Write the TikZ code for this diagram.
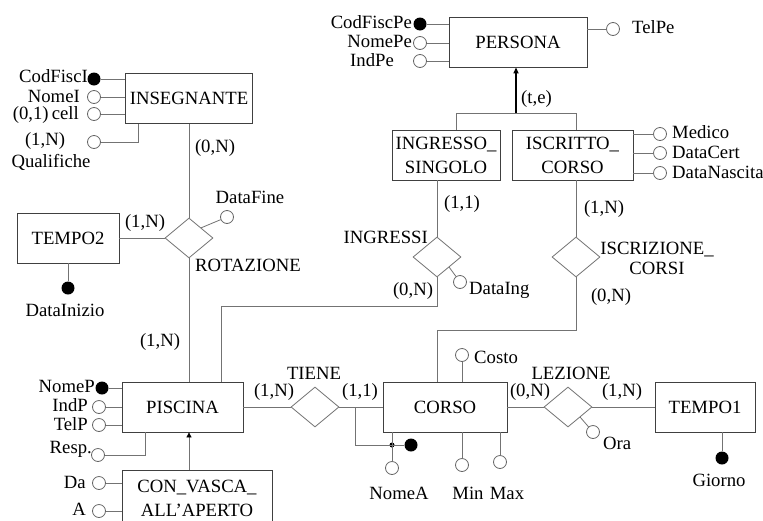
\documentclass[tikz,border=0pt]{standalone}
\usepackage{fontspec}
\setmainfont{Liberation Serif}
\usetikzlibrary{shapes.geometric,arrows.meta}
\begin{document}
\begin{tikzpicture}[x=1pt,y=-1pt,
  font=\fontsize{18.7}{24}\selectfont,
  ent/.style={draw=black!75, line width=0.8pt, minimum height=50pt, inner sep=2pt, align=center},
  rel/.style={draw=black!55, line width=0.8pt, shape=diamond, minimum width=48pt, minimum height=40pt, inner sep=0pt},
  con/.style={draw=black!55, line width=0.8pt},
  att/.style={circle, draw=black!60, fill=white, line width=0.8pt, minimum size=13pt, inner sep=0pt},
  keyatt/.style={circle, fill=black, minimum size=13pt, inner sep=0pt},
  lbl/.style={inner sep=0pt},
]
\clip (0,0) rectangle (763,520);
\fill[white] (0,0) rectangle (763,520);

% entities
\node[ent, minimum width=138pt] (persona) at (518,42) {PERSONA};
\node[ent, minimum width=127pt] (ins) at (189,98.5) {INSEGNANTE};
\node[ent, minimum width=108pt] (ingr) at (446,155) {INGRESSO\_\\SINGOLO};
\node[ent, minimum width=121pt] (iscr) at (572.5,155) {ISCRITTO\_\\CORSO};
\node[ent, minimum width=102pt] (tempo2) at (68,238) {TEMPO2};
\node[ent, minimum width=121pt] (piscina) at (182.5,407) {PISCINA};
\node[ent, minimum width=124pt] (corso) at (445,407) {CORSO};
\node[ent, minimum width=100pt] (tempo1) at (705,407) {TEMPO1};
\node[ent, minimum width=150pt, minimum height=56pt, anchor=north] (vasca) at (197,470) {CON\_VASCA\_\\ALL'APERTO};

% relationships
\node[rel] (rot) at (189,238) {};
\node[rel] (ingressi) at (437,257) {};
\node[rel] (iscrz) at (576,257) {};
\node[rel] (tiene) at (315,407) {};
\node[rel] (lez) at (568,407) {};

% relationship connectors
\draw[con] (ins.south) -- (rot.north);
\draw[con] (tempo2.east) -- (rot.west);
\draw[con] (rot.south) -- (rot.south |- piscina.north);
\coordinate (pj) at (221,306);
\draw[con] (pj |- piscina.north) -- (pj) -- (pj -| ingressi.south) -- (ingressi.south);
\draw[con] (ingressi.north) -- (ingressi.north |- ingr.south);
\draw[con] (iscrz.north) -- (iscrz.north |- iscr.south);
\coordinate (cj) at (437,330);
\draw[con] (iscrz.south) -- (iscrz.south |- cj) -- (cj) -- (cj |- corso.north);
\draw[con] (piscina.east) -- (tiene.west);
\draw[con] (tiene.east) -- (corso.west);
\draw[con] (corso.east) -- (lez.west);
\draw[con] (lez.east) -- (tempo1.west);

% generalizations
\coordinate (isaL) at (456,113);
\coordinate (isaR) at (576,113);
\coordinate (isaM) at (516,113);
\draw[con] (isaL |- ingr.north) -- (isaL) -- (isaR) -- (isaR |- iscr.north);
\draw[black, line width=1.5pt, -{Triangle[length=6pt,width=5pt]}] (isaM) -- (isaM |- persona.south);
\node[lbl, anchor=west] (te) at (521,99) {(t,e)};
\coordinate (va) at (189,450);
\draw[con, -{Triangle[length=5pt,width=5pt,fill=black,color=black]}] (va |- vasca.north) -- (va |- piscina.south);

% PERSONA attributes
\node[keyatt] (cfpe) at (420,24) {};
\node[att] (nomepe) at (420,43) {};
\node[att] (indpe) at (420,61) {};
\node[att] (telpe) at (613,29) {};
\draw[con] (cfpe) -- (cfpe -| persona.west);
\draw[con] (nomepe) -- (nomepe -| persona.west);
\draw[con] (indpe) -- (indpe -| persona.west);
\draw[con] (telpe) -- (telpe -| persona.east);
\node[lbl, anchor=east] (tcfpe) at (412,22) {CodFiscPe};
\node[lbl, anchor=east] (tnomepe) at (412,41) {NomePe};
\node[lbl, anchor=east] (tindpe) at (394,60) {IndPe};
\node[lbl, anchor=west] (ttelpe) at (632,27) {TelPe};

% ISCRITTO_CORSO attributes
\node[att] (medico) at (660,134) {};
\node[att] (datacert) at (660,153) {};
\node[att] (datanasc) at (660,173) {};
\draw[con] (medico) -- (medico -| iscr.east);
\draw[con] (datacert) -- (datacert -| iscr.east);
\draw[con] (datanasc) -- (datanasc -| iscr.east);
\node[lbl, anchor=west] (tmedico) at (672,132) {Medico};
\node[lbl, anchor=west] (tdatacert) at (672,152) {DataCert};
\node[lbl, anchor=west] (tdatanasc) at (672,172) {DataNascita};

% INSEGNANTE attributes
\node[keyatt] (cfi) at (94,79) {};
\node[att] (nomei) at (94,97) {};
\node[att] (cell) at (94,114) {};
\node[att] (qual) at (94,142) {};
\draw[con] (cfi) -- (cfi -| ins.west);
\draw[con] (nomei) -- (nomei -| ins.west);
\draw[con] (cell) -- (cell -| ins.west);
\coordinate (qj) at (138,142);
\draw[con] (qual) -- (qj) -- (qj |- ins.south);
\node[lbl, anchor=east] (tcfi) at (88,76) {CodFiscI};
\node[lbl, anchor=east] (tnomei) at (80,96) {NomeI};
\node[lbl, anchor=east] (tcell) at (79,115) {(0,1)\,cell};
\node[lbl] (tqual1) at (45,141) {(1,N)};
\node[lbl] (tqual2) at (51,162) {Qualifiche};

% ROTAZIONE
\node[att] (datafine) at (227,217) {};
\draw[con] (rot.north east) -- (datafine);
\node[lbl] (tdatafine) at (250,197) {DataFine};
\node[lbl, anchor=west] (trot) at (195,265) {ROTAZIONE};
\node[lbl] (c1) at (215,148) {(0,N)};
\node[lbl] (c2) at (145,223) {(1,N)};
\node[lbl] (c3) at (160,342) {(1,N)};
\node[keyatt] (dataini) at (68,288) {};
\draw[con] (dataini) -- (dataini |- tempo2.south);
\node[lbl] (tdataini) at (65,310) {DataInizio};

% INGRESSI
\node[att] (dataing) at (460,282) {};
\draw[con] (ingressi.south east) -- (dataing);
\node[lbl, anchor=west] (tdataing) at (469,290) {DataIng};
\node[lbl, anchor=east] (tingressi) at (428,237) {INGRESSI};
\node[lbl] (c4) at (462,204) {(1,1)};
\node[lbl] (c5) at (413,291) {(0,N)};

% ISCRIZIONE_CORSI
\node[lbl, align=center] (tiscrz) at (657,258) {ISCRIZIONE\_\\[-4pt]CORSI};
\node[lbl] (c6) at (604,209) {(1,N)};
\node[lbl] (c7) at (611,297) {(0,N)};

% PISCINA attributes
\node[keyatt] (nomep) at (102,388) {};
\node[att] (indp) at (99,407) {};
\node[att] (telp) at (99,425) {};
\node[att] (resp) at (98,455) {};
\draw[con] (nomep) -- (nomep -| piscina.west);
\draw[con] (indp) -- (indp -| piscina.west);
\draw[con] (telp) -- (telp -| piscina.west);
\coordinate (rj) at (145,455);
\draw[con] (resp) -- (rj) -- (rj |- piscina.south);
\node[lbl, anchor=east] (tnomep) at (95,386) {NomeP};
\node[lbl, anchor=east] (tindp) at (88,405) {IndP};
\node[lbl, anchor=east] (ttelp) at (88,424) {TelP};
\node[lbl, anchor=east] (tresp) at (92,449) {Resp.};

% CON_VASCA attributes
\node[att] (da) at (99,483) {};
\node[att] (aa) at (99,511) {};
\draw[con] (da) -- (da -| vasca.west);
\draw[con] (aa) -- (aa -| vasca.west);
\node[lbl, anchor=east] (tda) at (86,482) {Da};
\node[lbl, anchor=east] (taa) at (86,509) {A};

% TIENE
\node[lbl] (ttiene) at (314,373) {TIENE};
\node[lbl] (c8) at (274,392) {(1,N)};
\node[lbl] (c9) at (360,392) {(1,1)};

% CORSO attributes
\node[att] (costo) at (462,355) {};
\draw[con] (costo) -- (costo |- corso.north);
\node[lbl, anchor=west] (tcosto) at (474,357) {Costo};
\node[att] (minatt) at (462,465) {};
\node[att] (maxatt) at (500,462) {};
\draw[con] (minatt) -- (minatt |- corso.south);
\draw[con] (maxatt) -- (maxatt |- corso.south);
\node[lbl] (tmin) at (468,493) {Min};
\node[lbl] (tmax) at (507,493) {Max};
\coordinate (ta) at (355,407);
\coordinate (tb) at (355,445);
\node[keyatt] (nomeakey) at (411,445) {};
\node[circle, fill=black, minimum size=5pt, inner sep=0pt] (jdot) at (392,445) {};
\draw[con] (ta) -- (tb) -- (nomeakey);
\node[att] (nomea) at (392,468) {};
\draw[con] (nomea |- corso.south) -- (nomea);
\node[lbl] (tnomea) at (399,493) {NomeA};

% LEZIONE
\node[lbl] (tlez) at (571,373) {LEZIONE};
\node[lbl] (c10) at (530,392) {(0,N)};
\node[lbl] (c11) at (622,392) {(1,N)};
\node[att] (ora) at (593,432) {};
\draw[con] (lez.south east) -- (ora);
\node[lbl, anchor=west] (tora) at (603,443) {Ora};
\node[keyatt] (giorno) at (722,458) {};
\draw[con] (giorno) -- (giorno |- tempo1.south);
\node[lbl] (tgiorno) at (719,480) {Giorno};
\end{tikzpicture}
\end{document}
